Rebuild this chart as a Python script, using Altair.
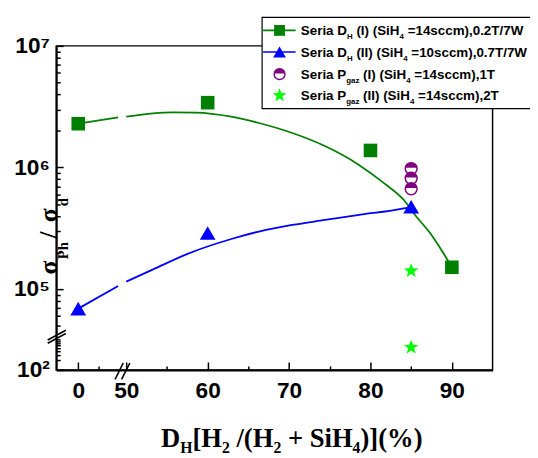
import math
import altair as alt
import pandas as pd

# ---------------- data ----------------
SQ_X = [0, 60, 80, 90]
SQ_Y = [2.29e6, 3.41e6, 1.38e6, 1.51e5]
TRI_X = [0, 60, 85]
TRI_Y = [6.9e4, 2.89e5, 4.75e5]
CIRC_X = [85, 85, 85]
CIRC_Y = [9.8e5, 8.15e5, 6.68e5]
STAR_X = [85, 85]
STAR_Y = [1.41e5, 520]

GFIT_SEG = [0, 0] + [1] * 15
GFIT_X = [0, 4.9, 50.0, 53.3, 55.7, 58.5, 62.9, 66.3, 70.4, 74.4, 78.4, 81.7, 84.1, 85.7, 87.3, 88.9, 90]
GFIT_Y = [2.29e6, 2.58e6, 2.62e6, 2.79e6, 2.84e6, 2.83e6, 2.62e6, 2.32e6, 1.92e6, 1.50e6,
          1.07e6, 7.4e5, 5.4e5, 3.9e5, 2.9e5, 2.0e5, 1.51e5]
BFIT_SEG = [0, 0] + [1] * 10
BFIT_X = [0, 4.9, 50.0, 53.3, 57.3, 62.9, 66.3, 70.4, 74.4, 78.4, 84.1, 85]
BFIT_Y = [6.9e4, 1.06e5, 1.15e5, 1.45e5, 1.92e5, 2.58e5, 2.97e5, 3.37e5, 3.70e5, 4.06e5, 4.60e5, 4.75e5]

X_LABELS = ["0", "50", "60", "70", "80", "90"]
Y_LABELS = ["10²", "10⁵", "10⁶", "10⁷"]

LEGEND_ROWS = [
    [("Seria D", 0), ("H", 1), (" (I) (SiH", 0), ("4", 1), (" =14sccm),0.2T/7W", 0)],
    [("Seria D", 0), ("H", 1), (" (II) (SiH", 0), ("4", 1), (" =10sccm),0.7T/7W", 0)],
    [("Seria P", 0), ("gaz", 1), (" (I) (SiH", 0), ("4", 1), (" =14sccm),1T", 0)],
    [("Seria P", 0), ("gaz", 1), (" (II) (SiH", 0), ("4", 1), (" =14sccm),2T", 0)],
]
X_TITLE = [("D", 0), ("H", 1), ("[H", 0), ("2", 1), (" /(H", 0), ("2", 1), (" + SiH", 0), ("4", 1), (")](%)", 0)]

# ---------------- layout / axis geometry ----------------
W, H = 443, 329
X_ZERO_POS = 44.1          # where x = 0 sits on the broken axis
XMIN, XMAX = 41.4, 95.0
LOW_BASE, LOW_SCALE = 4.335, 0.26   # compressed lower decade below the y break
YMIN, YMAX = LOW_BASE, 7.0

GREEN, BLUE, PURPLE, LIME = "#008000", "#0000ff", "#800080", "#00ff00"
SANS, SERIF = "Liberation Sans", "Liberation Serif"

X_MAJOR = [X_ZERO_POS, 50, 60, 70, 80, 90]
X_MINOR = [X_ZERO_POS + 2.5, 55, 65, 75, 85]
Y_MAJOR = [LOW_BASE, 5, 6, 7]
Y_MINOR = ([math.log10(k * 10 ** n) for n in (5, 6) for k in range(2, 10)]
           + [math.log10(k * 1e4) for k in range(5, 10)]
           + [LOW_BASE + LOW_SCALE * math.log10(k) for k in range(2, 10)])


def label_expr(vals, labels):
    s = "''"
    for v, l in reversed(list(zip(vals, labels))):
        s = f"abs(datum.value-{v})<0.001 ? '{l}' : ({s})"
    return s


def major_expr(vals, big, small):
    cond = " || ".join(f"abs(datum.value-{v})<0.001" for v in vals)
    return f"({cond}) ? {big} : {small}"


xaxis = alt.Axis(values=sorted(X_MAJOR + X_MINOR), labelExpr=label_expr(X_MAJOR, X_LABELS),
                 tickSize={"expr": major_expr(X_MAJOR, -8, -4)}, labelPadding=18,
                 title=None, grid=False, labelFlush=False, labelOverlap=False,
                 labelFont=SANS, labelFontSize=23, labelFontWeight="bold", labelColor="black",
                 labelBaseline="top", domainColor="black", domainWidth=2,
                 tickColor="black", tickWidth=1.5)
yaxis = alt.Axis(values=sorted(Y_MAJOR + Y_MINOR), labelExpr=label_expr(Y_MAJOR, Y_LABELS),
                 tickSize={"expr": major_expr(Y_MAJOR, -7, -4)}, labelPadding=14,
                 title=None, grid=False, labelFlush=False, labelOverlap=False,
                 labelFont=SANS, labelFontSize=23, labelFontWeight="bold", labelColor="black",
                 labelBaseline="middle", labelAlign="right", domainColor="black", domainWidth=2,
                 tickColor="black", tickWidth=1.5)

xs = alt.Scale(domain=[XMIN, XMAX], nice=False, zero=False)
ys = alt.Scale(domain=[YMIN, YMAX], nice=False, zero=False)
XENC = alt.X("xd:Q", scale=xs, axis=xaxis)
YENC = alt.Y("yd:Q", scale=ys, axis=yaxis)
XD = f"datum.x < 40 ? datum.x + {X_ZERO_POS} : datum.x"
YD = f"datum.v >= 1e4 ? log(datum.v)/LN10 : {LOW_BASE} + {LOW_SCALE}*(log(datum.v)/LN10 - 2)"


def data_chart(df):
    return alt.Chart(df).transform_calculate(xd=XD, yd=YD)


# star and half-circle shapes
star_pts = []
for k in range(10):
    a = -math.pi / 2 + k * math.pi / 5
    r = 1.0 if k % 2 == 0 else 0.42
    star_pts.append(f"{r * math.cos(a):.3f},{r * math.sin(a):.3f}")
STAR = "M" + " L".join(star_pts) + " Z"
HALF = "M-0.993,-0.12 A1,1 0 0,1 0.993,-0.12 Z"

# ---------------- fit curves ----------------
fits = pd.concat([
    pd.DataFrame({"x": GFIT_X, "v": GFIT_Y, "seg": [f"g{s}" for s in GFIT_SEG], "col": GREEN}),
    pd.DataFrame({"x": BFIT_X, "v": BFIT_Y, "seg": [f"b{s}" for s in BFIT_SEG], "col": BLUE}),
])
curves = data_chart(fits).mark_line(interpolate="monotone", strokeWidth=1.8).encode(
    x=XENC, y=YENC, detail="seg:N", order="x:Q", color=alt.Color("col:N", scale=None))

# ---------------- points ----------------
def pts(xv, yv, shape, fill, stroke, size, sw):
    return pd.DataFrame({"x": xv, "v": yv, "shape": shape, "fill": fill, "stroke": stroke,
                         "size": size, "sw": sw})


pts_df = pd.concat([
    pts(SQ_X, SQ_Y, "square", GREEN, GREEN, 190, 0),
    pts(TRI_X, TRI_Y, "triangle-up", BLUE, BLUE, 256, 0),
    pts(CIRC_X, CIRC_Y, "circle", "white", PURPLE, 144, 1.5),
    pts(CIRC_X, CIRC_Y, HALF, PURPLE, PURPLE, 144, 0),
    pts(STAR_X, STAR_Y, STAR, LIME, LIME, 240, 0),
], ignore_index=True)
pts_df["ord"] = range(len(pts_df))
points = data_chart(pts_df).mark_point(filled=True, opacity=1).encode(
    x=XENC, y=YENC,
    shape=alt.Shape("shape:N", scale=None), fill=alt.Fill("fill:N", scale=None),
    stroke=alt.Stroke("stroke:N", scale=None), size=alt.Size("size:Q", scale=None),
    strokeWidth=alt.StrokeWidth("sw:Q", scale=None), order="ord:Q")

# ---------------- axis breaks ----------------
brk = pd.DataFrame({
    "px": [-8.7, -8.7, 59.7, 66.3], "px2": [9.7, 9.7, 68.0, 74.7],
    "py": [302.0, 298.7, 338.7, 338.7], "py2": [292.0, 288.7, 322.0, 322.0]})
breaks = alt.Chart(brk).mark_rule(color="black", strokeWidth=1.6).encode(
    x=alt.X("px:Q", scale=None, axis=None), x2="px2:Q",
    y=alt.Y("py:Q", scale=None, axis=None), y2="py2:Q")

# ---------------- text width helper ----------------
ARIAL_B = {" ": 278, "(": 333, ")": 333, ",": 278, ".": 278, "/": 278, "=": 584, "D": 722,
           "H": 722, "I": 278, "P": 667, "S": 667, "T": 611, "W": 944, "a": 556, "c": 556,
           "e": 556, "g": 611, "i": 278, "m": 889, "r": 389, "s": 556, "z": 500}
TIMES_B = {"D": 722, "H": 778, "[": 333, "]": 333, " ": 250, "/": 278, "(": 333, ")": 333,
           "+": 570, "S": 556, "i": 278, "%": 1000}


def layout(segs, x0, y0, fs, sfs, dsub, table, digit):
    """Place text pieces one after another; SVG drops leading spaces, so they are
    turned into an x advance instead."""
    rows, x = [], x0
    for t, sub in segs:
        size = sfs if sub else fs
        lead = len(t) - len(t.lstrip(" "))
        x += lead * table[" "] * size / 1000.0
        body = t.lstrip(" ")
        rows.append({"t": body, "px": x, "py": y0 + (dsub if sub else 0), "fs": size})
        x += sum(table.get(c, digit) for c in body) * size / 1000.0
    return rows


# ---------------- legend ----------------
LEG_X0, LEG_MARK, LEG_L1, LEG_L2 = 248.3, 226.7, 210, 243
LEG_ROW_Y = [-15.7, 6.3, 28.7, 50.3]
leg_box = alt.Chart(pd.DataFrame({"a": [209], "b": [500], "c": [-29], "d": [63.7]})).mark_rect(
    fill="white", stroke="black", strokeWidth=1.2).encode(
    x=alt.X("a:Q", scale=None, axis=None), x2="b:Q",
    y=alt.Y("c:Q", scale=None, axis=None), y2="d:Q")
leg_lines = alt.Chart(pd.DataFrame({"a": [LEG_L1] * 2, "b": [LEG_L2] * 2, "c": LEG_ROW_Y[:2],
                                    "col": [GREEN, BLUE]})).mark_rule(strokeWidth=1.6).encode(
    x=alt.X("a:Q", scale=None, axis=None), x2="b:Q",
    y=alt.Y("c:Q", scale=None, axis=None), color=alt.Color("col:N", scale=None))
leg_sym_df = pd.DataFrame({
    "px": [LEG_MARK] * 5,
    "py": [LEG_ROW_Y[0], LEG_ROW_Y[1], LEG_ROW_Y[2], LEG_ROW_Y[2], LEG_ROW_Y[3]],
    "shape": ["square", "triangle-up", "circle", HALF, STAR],
    "fill": [GREEN, BLUE, "white", PURPLE, LIME],
    "stroke": [GREEN, BLUE, PURPLE, PURPLE, LIME],
    "size": [121, 169, 121, 121, 210], "sw": [0, 0, 1.4, 0, 0], "ord": [0, 1, 2, 3, 4]})
leg_syms = alt.Chart(leg_sym_df).mark_point(filled=True, opacity=1).encode(
    x=alt.X("px:Q", scale=None, axis=None), y=alt.Y("py:Q", scale=None, axis=None),
    shape=alt.Shape("shape:N", scale=None), fill=alt.Fill("fill:N", scale=None),
    stroke=alt.Stroke("stroke:N", scale=None), size=alt.Size("size:Q", scale=None),
    strokeWidth=alt.StrokeWidth("sw:Q", scale=None), order="ord:Q")
leg_txt_rows = []
for segs, ry in zip(LEGEND_ROWS, LEG_ROW_Y):
    leg_txt_rows += layout(segs, LEG_X0, ry + 5, 13.6, 8, 4, ARIAL_B, 556)
leg_text = alt.Chart(pd.DataFrame(leg_txt_rows)).mark_text(
    align="left", baseline="alphabetic", font=SANS, fontWeight="bold", color="black").encode(
    x=alt.X("px:Q", scale=None, axis=None), y=alt.Y("py:Q", scale=None, axis=None),
    text="t:N", size=alt.Size("fs:Q", scale=None))

# ---------------- axis titles ----------------
xt = alt.Chart(pd.DataFrame(layout(X_TITLE, 106.3, 407.5, 27, 16, 6, TIMES_B, 500))).mark_text(
    align="left", baseline="alphabetic", font=SERIF, fontWeight="bold", color="black").encode(
    x=alt.X("px:Q", scale=None, axis=None), y=alt.Y("py:Q", scale=None, axis=None),
    text="t:N", size=alt.Size("fs:Q", scale=None))
yt_df = pd.DataFrame({"t": ["σ", "Ph", "/", "σ", "d"],
                      "px": [1, 11.5, 1, 1, 11.5],
                      "py": [225, 208, 192, 172, 158.7],
                      "fs": [26, 15, 26, 26, 15]})
yt = alt.Chart(yt_df).mark_text(
    angle=270, align="center", baseline="alphabetic", font=SERIF, fontWeight="bold",
    color="black").encode(
    x=alt.X("px:Q", scale=None, axis=None), y=alt.Y("py:Q", scale=None, axis=None),
    text="t:N", size=alt.Size("fs:Q", scale=None))

chart = alt.layer(curves, points, breaks, leg_box, leg_lines, leg_syms, leg_text, xt, yt).properties(
    width=W, height=H, autosize=alt.AutoSizeParams(type="none"),
    padding={"left": 49, "top": 35, "right": 38, "bottom": 86},
    background="white",
).configure_view(stroke="black", strokeWidth=1.5)

chart.save("out.html", embed_options={"renderer": "svg", "actions": False})
